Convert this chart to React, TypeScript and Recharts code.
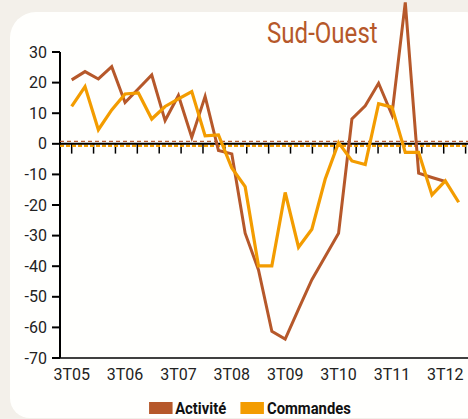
import React from "react";
import {
  LineChart,
  Line,
  XAxis,
  YAxis,
  ReferenceLine,
  Legend,
} from "recharts";

const quarters = [
  "3T05", "4T05", "1T06", "2T06", "3T06", "4T06", "1T07", "2T07", "3T07", "4T07",
  "1T08", "2T08", "3T08", "4T08", "1T09", "2T09", "3T09", "4T09", "1T10", "2T10",
  "3T10", "4T10", "1T11", "2T11", "3T11", "4T11", "1T12", "2T12", "3T12", "4T12",
];

const activite: (number | null)[] = [
  20.9, 23.6, 21.2, 25.2, 13.5, 18.0, 22.5, 7.6, 15.8, 2.1,
  15.5, -2.2, -3.3, -29.2, -41.2, -61.3, -63.8, -54.0, -44.4, -36.8,
  -29.2, 8.1, 12.4, 19.8, 9.5, 46.2, -9.6, -11.0, -12.3, null,
];

const commandes: number[] = [
  12.2, 18.7, 4.6, 11.1, 16.3, 16.6, 8.1, 12.2, 14.7, 17.1,
  2.6, 2.9, -7.9, -14.0, -39.9, -39.9, -15.9, -33.8, -27.9, -11.5,
  0.4, -5.6, -6.8, 13.1, 12.0, -2.8, -2.8, -16.7, -12.1, -19.1,
];

const yTicks = [-70, -60, -50, -40, -30, -20, -10, 0, 10, 20, 30];
const xTickIdx = [0, 4, 8, 12, 16, 20, 24, 28];
const zeroTickIdx = [0, 1.64, 3.28, 4.92, 6.56, 8.2, 9.84, 11.48, 13.12, 14.76, 16.4, 18.04, 19.68, 21.32, 22.96, 24.6, 26.24, 27.88, 29.52];

const avgActivite = 0.8;
const avgCommandes = -0.6;

const data = quarters.map((q, i) => ({
  i,
  q,
  activite: activite[i],
  commandes: commandes[i],
}));

const BROWN = "#b6582a";
const ORANGE = "#f39c00";
const FONT = "'Roboto', sans-serif";

const X_MIN = -0.875;
const X_MAX = 29.7;
const Y_MIN = -70;
const Y_MAX = 47;

const LegendContent = () => (
  <div style={{ width: 468, display: "flex", justifyContent: "center", paddingLeft: 31, paddingTop: 8, boxSizing: "border-box" }}>
    <div
      style={{
        display: "flex",
        alignItems: "center",
        fontFamily: FONT,
        fontWeight: 700,
        fontSize: 17,
        lineHeight: "20px",
        color: "#111",
        transform: "scaleX(0.87)",
      }}
    >
      <span style={{ display: "inline-block", width: 26.5, height: 12, background: BROWN, marginRight: 3.5 }} />
      <span style={{ marginRight: 16 }}>Activité</span>
      <span style={{ display: "inline-block", width: 27.5, height: 12, background: ORANGE, marginRight: 3.5 }} />
      <span>Commandes</span>
    </div>
  </div>
);

export default function App() {
  return (
    <div
      style={{
        position: "absolute",
        left: 0,
        top: 0,
        width: 468,
        height: 419,
        background: "#f3f0ea",
        overflow: "hidden",
      }}
    >
      <div
        style={{
          position: "absolute",
          left: 10,
          top: 12,
          width: 470,
          height: 406,
          background: "#fffffd",
          borderTopLeftRadius: 26,
          borderTopRightRadius: 14,
          borderBottomLeftRadius: 20,
        }}
      />
      <div
        style={{
          position: "absolute",
          left: 267,
          top: 16,
          fontFamily: FONT,
          fontSize: 29,
          color: BROWN,
          lineHeight: "34px",
          transform: "scaleX(0.83)",
          transformOrigin: "left center",
          whiteSpace: "nowrap",
        }}
      >
        Sud-Ouest
      </div>
      <div style={{ position: "absolute", left: 0, top: 0 }}>
        <LineChart
          width={468}
          height={419}
          data={data}
          margin={{ top: 0, right: 0, bottom: 0, left: 0 }}
        >
          <XAxis
            dataKey="i"
            type="number"
            domain={[X_MIN, X_MAX]}
            ticks={xTickIdx}
            tickFormatter={(v: number) => quarters[v]}
            tickLine={false}
            axisLine={{ stroke: "#000", strokeWidth: 1.5 }}
            tick={{ fill: "#222", fontSize: 16, fontFamily: FONT }}
            tickMargin={5}
            height={32}
            allowDataOverflow
          />
          <YAxis
            type="number"
            domain={[Y_MIN, Y_MAX]}
            ticks={yTicks}
            width={60}
            axisLine={false}
            tickLine={{ stroke: "#000", strokeWidth: 2 }}
            tickSize={8}
            tickMargin={5}
            tick={{ fill: "#222", fontSize: 16, fontFamily: FONT }}
            allowDataOverflow
          />
          <ReferenceLine
            segment={[{ x: X_MIN, y: Y_MIN }, { x: X_MIN, y: 30 }]}
            stroke="#000"
            strokeWidth={2}
            ifOverflow="visible"
          />
          {zeroTickIdx.map((t) => (
            <ReferenceLine
              key={t}
              segment={[{ x: t, y: 0 }, { x: t, y: -3.2 }]}
              stroke="#000"
              strokeWidth={1.5}
              ifOverflow="visible"
            />
          ))}
          <ReferenceLine y={avgActivite} stroke={BROWN} strokeWidth={1.2} strokeDasharray="4 3" />
          <ReferenceLine y={avgCommandes} stroke={ORANGE} strokeWidth={2.5} strokeDasharray="4 2" />
          <ReferenceLine y={0} stroke="#000" strokeWidth={2} />
          <Line
            dataKey="activite"
            name="Activité"
            stroke={BROWN}
            strokeWidth={3}
            dot={false}
            isAnimationActive={false}
            connectNulls={false}
          />
          <Line
            dataKey="commandes"
            name="Commandes"
            stroke={ORANGE}
            strokeWidth={3.2}
            dot={false}
            isAnimationActive={false}
          />
          <Legend verticalAlign="bottom" height={29} content={<LegendContent />} />
        </LineChart>
      </div>
    </div>
  );
}
